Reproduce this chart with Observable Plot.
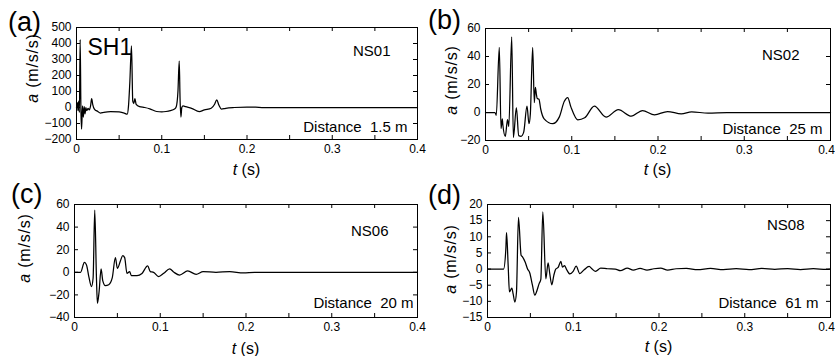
<!DOCTYPE html>
<html><head><meta charset="utf-8">
<script src="https://cdn.jsdelivr.net/npm/d3@7"></script>
<script src="https://cdn.jsdelivr.net/npm/@observablehq/plot@0.6"></script>
<style>
body{margin:0;background:#fff;}
#wrap{position:relative;width:835px;height:356px;overflow:hidden;background:#fff;}
#wrap svg{position:absolute;}
</style></head><body><div id="wrap"></div>
<script>
// ---- data ----
const xTickMarks = [0, 0.05, 0.1, 0.15, 0.2, 0.25, 0.3, 0.35, 0.4];
const xTickLabels = [0, 0.1, 0.2, 0.3, 0.4];

const yTicksA = [-200, -100, 0, 100, 200, 300, 400, 500];
const yTicksB = [-20, 0, 20, 40, 60];
const yTicksC = [-40, -20, 0, 20, 40, 60];
const yTicksD = [-15, -10, -5, 0, 5, 10, 15, 20];

const tA = [0, 0.001, 0.0018, 0.0026, 0.0034, 0.0043, 0.0052, 0.006, 0.007, 0.008, 0.009, 0.010, 0.011, 0.012, 0.0135, 0.015, 0.0165, 0.0178, 0.019, 0.021, 0.025, 0.028, 0.032, 0.04, 0.05, 0.056, 0.0595, 0.061, 0.0625, 0.0645, 0.066, 0.0672, 0.0685, 0.070, 0.074, 0.080, 0.086, 0.094, 0.100, 0.105, 0.110, 0.115, 0.117, 0.119, 0.1205, 0.1215, 0.1225, 0.1235, 0.125, 0.128, 0.135, 0.144, 0.150, 0.158, 0.162, 0.1645, 0.167, 0.170, 0.175, 0.185, 0.2, 0.21, 0.22, 0.3, 0.4];
const aA = [0, 30, -20, 40, -30, 425, -20, -135, 10, -60, 5, -40, 0, -20, -5, -15, 10, 55, 20, -10, -25, -35, -30, -25, -28, -35, -42, 10, 150, 385, 40, 25, 55, 20, 5, 0, -8, -25, -27, -25, -20, -10, 5, 100, 290, 50, -60, 0, 10, 5, -5, -25, -15, -5, 20, 48, 15, -10, -5, 0, 3, 2, 0, 0, 0];

const tB = [0, 0.011, 0.0125, 0.016, 0.018, 0.0195, 0.020, 0.023, 0.0255, 0.027, 0.0304, 0.0323, 0.0358, 0.0385, 0.0412, 0.0443, 0.0481, 0.0504, 0.052, 0.0547, 0.0566, 0.0578, 0.059, 0.060, 0.062, 0.064, 0.068, 0.078, 0.0855, 0.0914, 0.0953, 0.099, 0.107, 0.115, 0.1262, 0.1398, 0.154, 0.169, 0.182, 0.196, 0.211, 0.227, 0.239, 0.258, 0.28, 0.4];
const aB = [0, 0, -2, 46.5, -11.5, -4.5, -8, -17, -5, -10, 54, -18, 3.5, -16.5, -17, -14, 4.5, -8, -1, 46.5, 7, 18, 13, 10, 9.5, 2.5, -4.5, -8, -3.3, 8, 10.7, 4, -5.2, -3.8, 4.5, -3.3, 2, -2.6, 1.4, -1.7, 0.7, -1, 0.5, -0.5, 0, 0];

const tC = [0, 0.007, 0.0116, 0.014, 0.0167, 0.0198, 0.0217, 0.0236, 0.0256, 0.0267, 0.0287, 0.031, 0.033, 0.036, 0.0399, 0.044, 0.0477, 0.050, 0.0535, 0.0562, 0.0585, 0.0612, 0.0643, 0.0663, 0.0729, 0.0787, 0.0853, 0.0884, 0.0922, 0.0981, 0.104, 0.111, 0.116, 0.1225, 0.132, 0.1419, 0.150, 0.165, 0.181, 0.197, 0.21, 0.4];
const aC = [0, 0, 8.8, 6.5, -3.8, -12.6, -5, 55, -5, -27.4, -17, 3, -7.6, -11.8, -11, -5, 12.9, 3.5, 10, 14.7, 13, -1, 0.6, -3, -3, -1, 5.6, 0.6, 0, -3.8, -0.9, 3, 0, -2.4, 1.2, -1.8, 0.6, 0, 0.6, -0.6, 0, 0];

const tD = [0, 0.0187, 0.0214, 0.0222, 0.0241, 0.0256, 0.0284, 0.0299, 0.0319, 0.0338, 0.0361, 0.0392, 0.0408, 0.0439, 0.0466, 0.0493, 0.0524, 0.0552, 0.0571, 0.0602, 0.0622, 0.0645, 0.068, 0.0707, 0.0726, 0.075, 0.0773, 0.0796, 0.0824, 0.0855, 0.0874, 0.0898, 0.092, 0.096, 0.0999, 0.1034, 0.1076, 0.1127, 0.1185, 0.122, 0.126, 0.132, 0.14, 0.149, 0.155, 0.163, 0.17, 0.178, 0.186, 0.194, 0.202, 0.21, 0.22, 0.232, 0.245, 0.26, 0.275, 0.29, 0.305, 0.32, 0.335, 0.35, 0.365, 0.38, 0.395, 0.4];
const aD = [0, 0, 6.3, 11.3, 1.1, -7.1, -5.9, -7.7, -10.2, -7.1, 16, 4.3, 3.8, 2.2, 0.1, -1.2, -5, -8.1, -7.1, -4.5, -3.2, 17.7, -3, 1.9, -1.4, -4.9, -2, 0, 0.5, 2.4, 0.6, 1.1, 0, -1.5, -0.7, 0.9, -1.4, -0.2, 0.8, 0, -0.7, 0.3, 0.1, 0, -0.5, 0.3, -0.3, 0.2, -0.3, 0.1, 0.3, -0.3, 0.1, 0.2, -0.2, 0.2, -0.2, 0.1, -0.2, 0.2, -0.1, 0.15, -0.15, 0.1, -0.1, 0];

const panelLetters = ["(a)", "(b)", "(c)", "(d)"];
const stationNames = ["NS01", "NS02", "NS06", "NS08"];
const distances = ["Distance  1.5 m", "Distance  25 m", "Distance  20 m", "Distance  61 m"];
const yDomains = [[-200, 500], [-20, 60], [-40, 60], [-15, 20]];

// ---- layout ----
const FONT = '"Liberation Sans", Arial, Helvetica, sans-serif';
const panels = [
  {t: tA, a: aA, yTicks: yTicksA, left: 0,   top: 0,   width: 420, height: 178, ml: 76, mr: 3, mt: 27, mb: 39,
   letter: [8, 31], name: [-27, 28], dist: [-10, -8], ylab: [38, 68], xlabY: 175, sh: true, lastDx: 0},
  {t: tB, a: aB, yTicks: yTicksB, left: 420, top: 0,   width: 415, height: 178, ml: 65, mr: 5, mt: 28, mb: 38,
   letter: [8, 29], name: [-31, 31], dist: [-8, -7], ylab: [37, 80], xlabY: 175, lastDx: -4},
  {t: tC, a: aC, yTicks: yTicksC, left: 0,   top: 178, width: 420, height: 178, ml: 74, mr: 3, mt: 26, mb: 39,
   letter: [11, 25], name: [-29, 31], dist: [-4, -10], ylab: [30, 70], xlabY: 176, lastDx: 0},
  {t: tD, a: aD, yTicks: yTicksD, left: 420, top: 178, width: 415, height: 178, ml: 67, mr: 5, mt: 26, mb: 39,
   letter: [8, 26], name: [-26, 25], dist: [-12, -10], ylab: [36, 81], xlabY: 174, lastDx: -4}
];

const wrap = document.getElementById("wrap");
const fmt = d3.format("~g");

panels.forEach((p, i) => {
  const data = p.t.map((t, j) => ({t, a: p.a[j]}));
  const plotW = p.width - p.ml - p.mr;
  const plotH = p.height - p.mt - p.mb;
  const marks = [
    Plot.line(data, {x: "t", y: "a", stroke: "black", strokeWidth: 1.25, curve: "monotone-x"}),
    Plot.frame({stroke: "black", strokeWidth: 1}),
    Plot.tickX(xTickMarks, {x: d => d, insetTop: plotH - 4, stroke: "black"}),
    Plot.tickX(xTickMarks, {x: d => d, insetBottom: plotH - 4, stroke: "black"}),
    Plot.tickY(p.yTicks, {y: d => d, insetRight: plotW - 4, stroke: "black"}),
    Plot.tickY(p.yTicks, {y: d => d, insetLeft: plotW - 4, stroke: "black"}),
    Plot.axisX(xTickLabels.slice(0, -1), {tickSize: 0, tickPadding: 5, tickFormat: fmt, label: null}),
    Plot.axisX(xTickLabels.slice(-1), {tickSize: 0, tickPadding: 5, tickFormat: fmt, label: null, dx: p.lastDx}),
    Plot.text([stationNames[i]], {text: d => d, frameAnchor: "top-right", textAnchor: "end", lineAnchor: "bottom",
      dx: p.name[0], dy: p.name[1], fontSize: 15, fill: "black"}),
    Plot.text([distances[i]], {text: d => d, frameAnchor: "bottom-right", textAnchor: "end", lineAnchor: "bottom",
      dx: p.dist[0], dy: p.dist[1], fontSize: 15, fill: "black"})
  ];
  if (p.sh) {
    marks.push(Plot.text(["SH1"], {text: d => d, frameAnchor: "top-left", textAnchor: "start", lineAnchor: "bottom",
      dx: 11, dy: 27, fontSize: 23, fill: "black"}));
  }
  const svg = Plot.plot({
    width: p.width, height: p.height,
    marginLeft: p.ml, marginRight: p.mr, marginTop: p.mt, marginBottom: p.mb,
    style: {fontFamily: FONT, fontSize: "12px", color: "black", background: "transparent", overflow: "visible", whiteSpace: "pre"},
    x: {domain: [0, 0.4], label: null},
    y: {domain: yDomains[i], ticks: p.yTicks, tickSize: 0, tickPadding: 5, label: null},
    marks
  });
  svg.style.left = p.left + "px";
  svg.style.top = p.top + "px";
  const s = d3.select(svg);
  s.append("text").attr("x", p.letter[0]).attr("y", p.letter[1])
    .attr("text-anchor", "start")
    .attr("font-size", 27).attr("fill", "black").text(panelLetters[i]);
  const yl = s.append("text")
    .attr("transform", `translate(${p.ylab[0]},${p.ylab[1]}) rotate(-90)`)
    .attr("text-anchor", "middle").attr("font-size", 16).attr("letter-spacing", "0.8px").attr("fill", "black");
  yl.append("tspan").attr("font-style", "italic").text("a");
  yl.append("tspan").text(" (m/s/s)");
  const xl = s.append("text")
    .attr("x", p.ml + plotW / 2).attr("y", p.xlabY)
    .attr("text-anchor", "middle").attr("font-size", 16).attr("fill", "black");
  xl.append("tspan").attr("font-style", "italic").text("t");
  xl.append("tspan").text(" (s)");
  wrap.appendChild(svg);
});
</script></body></html>
